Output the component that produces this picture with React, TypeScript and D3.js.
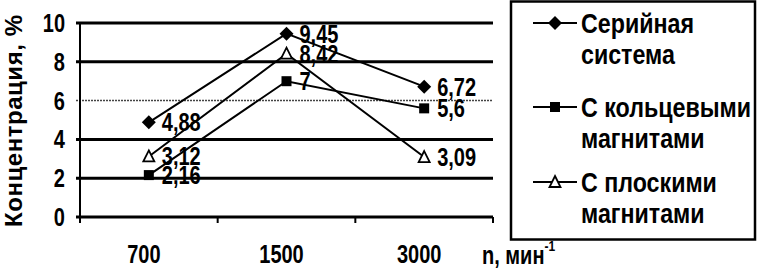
import * as d3 from "d3";
import React, { useEffect, useRef } from "react";

const categories = ["700", "1500", "3000"];
const serial = [4.88, 9.45, 6.72];
const ring = [2.16, 7, 5.6];
const flat = [3.12, 8.42, 3.09];
const yTicks = [0, 2, 4, 6, 8, 10];
const seriesNames = [["Серийная", "система"], ["С кольцевыми", "магнитами"], ["С плоскими", "магнитами"]];
const markers = ["diamond", "square", "triangle"];

const fmt = (v: number) => String(v).replace(".", ",");
const font = "'Liberation Sans', Arial, sans-serif";

type G = d3.Selection<any, unknown, null, undefined>;

// condensed bold text (no narrow font installed, so squeeze horizontally)
const narrowText = (parent: G, x: number, y: number, size: number, anchor = "start", dy = "0", sx = 0.8) =>
  parent.append("g")
    .attr("transform", `translate(${x},${y}) scale(${sx},1)`)
    .append("text")
    .attr("dy", dy)
    .attr("text-anchor", anchor)
    .attr("font-family", font).attr("font-weight", "bold").attr("font-size", size);

const App: React.FC = () => {
  const svgRef = useRef<SVGSVGElement | null>(null);

  useEffect(() => {
    if (!svgRef.current) return;
    const svg = d3.select(svgRef.current);
    svg.selectAll("*").remove();

    const x = d3.scaleBand().domain(categories).range([80, 493]).padding(0);
    const y = d3.scaleLinear().domain([0, 10]).range([217, 23]);

    // gridlines
    svg.append("g")
      .selectAll("line")
      .data(yTicks)
      .enter().append("line")
      .attr("x1", 76).attr("x2", 493)
      .attr("y1", d => y(d)).attr("y2", d => y(d))
      .attr("stroke", d => d === 6 ? "#444" : "#000")
      .attr("stroke-width", d => d === 6 ? 1.5 : 3)
      .attr("stroke-dasharray", d => d === 6 ? "2,1" : null);

    // y axis line
    svg.append("line")
      .attr("x1", 80).attr("x2", 80)
      .attr("y1", y(10)).attr("y2", y(0) + 1)
      .attr("stroke", "#000").attr("stroke-width", 2);

    // x ticks
    const bounds = categories.map(c => x(c)!).concat([x.range()[1]]);
    svg.append("g")
      .selectAll("line")
      .data(bounds)
      .enter().append("line")
      .attr("x1", d => d).attr("x2", d => d)
      .attr("y1", y(0)).attr("y2", y(0) + 6)
      .attr("stroke", "#000").attr("stroke-width", 2);

    // y tick labels
    yTicks.forEach(t => {
      narrowText(svg, 65, y(t), 25, "end", "0.36em").text(t);
    });

    // x tick labels
    categories.forEach(c => {
      narrowText(svg, x(c)! + x.bandwidth() / 2 - 5, 263, 25, "middle").text(c);
    });

    // y title
    svg.append("text")
      .attr("transform", `translate(22,${121}) rotate(-90)`)
      .attr("text-anchor", "middle")
      .attr("font-family", font).attr("font-weight", "bold").attr("font-size", 24)
      .attr("textLength", 212).attr("lengthAdjust", "spacing")
      .text("Концентрация, %");

    // x title
    const xt = narrowText(svg, 482, 264, 25);
    xt.append("tspan").text("n, мин");
    xt.append("tspan").attr("font-size", 15).attr("dy", -13).text("-1");

    const allSeries = [serial, ring, flat];
    const line = d3.line<number>()
      .x((_, i) => x(categories[i])! + x.bandwidth() / 2)
      .y(d => y(d));

    const drawMarker = (g: G, type: string, cx: number, cy: number) => {
      if (type === "diamond") {
        g.append("path")
          .attr("d", `M${cx},${cy - 7}L${cx + 7},${cy}L${cx},${cy + 7}L${cx - 7},${cy}Z`)
          .attr("fill", "#000");
      } else if (type === "square") {
        g.append("rect")
          .attr("x", cx - 5).attr("y", cy - 5).attr("width", 10).attr("height", 10)
          .attr("fill", "#000");
      } else {
        g.append("path")
          .attr("d", `M${cx},${cy - 6}L${cx + 5.5},${cy + 5}L${cx - 5.5},${cy + 5}Z`)
          .attr("fill", "#fff").attr("stroke", "#000").attr("stroke-width", 1.8);
      }
    };

    allSeries.forEach(vals => {
      svg.append("path")
        .attr("d", line(vals)!)
        .attr("fill", "none").attr("stroke", "#000").attr("stroke-width", 2);
    });

    allSeries.forEach((vals, si) => {
      const g = svg.append("g");
      vals.forEach((v, i) => {
        const cx = x(categories[i])! + x.bandwidth() / 2;
        drawMarker(g, markers[si], cx, y(v));
        narrowText(g, cx + 13, y(v), 25, "start", "0.36em").text(fmt(v));
      });
    });

    // legend
    const lg = svg.append("g");
    lg.append("rect")
      .attr("x", 511).attr("y", 1.5).attr("width", 244).attr("height", 238)
      .attr("fill", "none").attr("stroke", "#000").attr("stroke-width", 2.5);
    const rows = [23, 107, 182];
    seriesNames.forEach((names, si) => {
      const ly = rows[si];
      lg.append("line")
        .attr("x1", 533).attr("x2", 577).attr("y1", ly).attr("y2", ly)
        .attr("stroke", "#000").attr("stroke-width", 2);
      drawMarker(lg, markers[si], 555, ly);
      names.forEach((t, k) => {
        narrowText(lg, 581, ly + 10 + k * 31, 28, "start", "0", 0.83).text(t);
      });
    });
  }, []);

  return <svg ref={svgRef} width={757} height={273} style={{ display: "block", position: "absolute", left: 0, top: 0, background: "#fff" }} />;
};

export default App;
